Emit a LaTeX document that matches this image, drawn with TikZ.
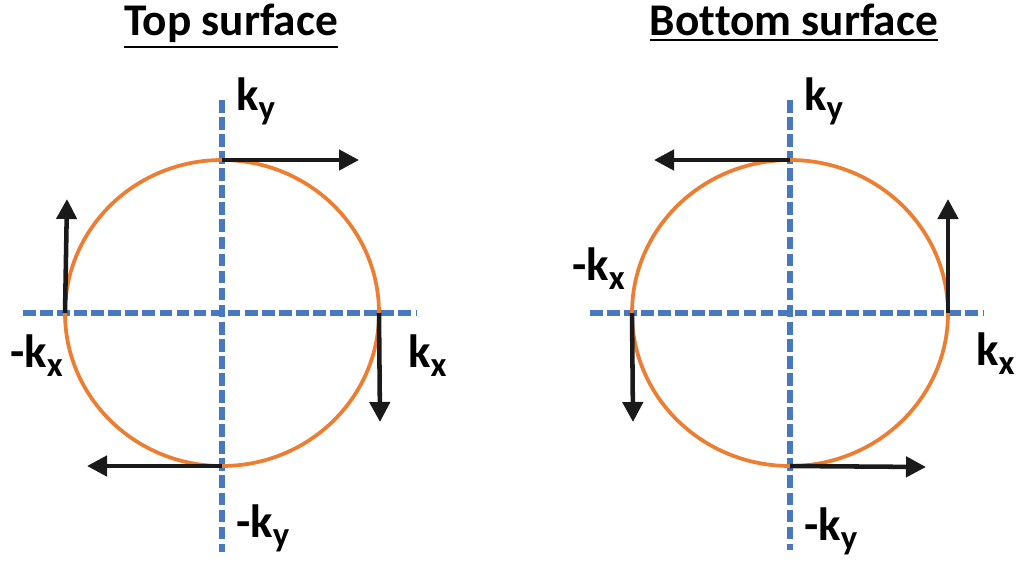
\documentclass[tikz,border=0pt]{standalone}
\usepackage{fontspec}
\setmainfont{Carlito}[Ligatures=NoCommon]
\usetikzlibrary{arrows.meta}
\definecolor{orng}{RGB}{237,125,49}
\definecolor{axblue}{RGB}{72,121,192}
\definecolor{arr}{RGB}{26,26,26}
\newcommand{\sbx}[1]{\raisebox{-7pt}{\fontsize{26}{26}\selectfont #1}}
\begin{document}
\begin{tikzpicture}[x=0.75pt,y=-0.75pt,
 axis/.style={axblue,line width=4.2pt,dash pattern=on 9.5pt off 3.3pt},
 ring/.style={orng,line width=2.8pt},
 spin/.style={arr,line width=3.4pt,-{Triangle[length=15pt,width=15pt]}},
 lab/.style={font=\fontsize{35}{37}\selectfont\bfseries,inner sep=0pt,anchor=base west},
 ttl/.style={font=\fontsize{34}{36}\selectfont\bfseries,inner sep=0pt,anchor=base},
 uline/.style={black,line width=1.8pt}]
\useasboundingbox (0,0) rectangle (1016,561);
% ---------- left: top surface ----------
\node[ttl] (tt) at (231,35) {Top surface};
\draw[uline] ([yshift=-3.5pt]tt.south west) -- ([yshift=-3.5pt]tt.south east);
\coordinate (Lc) at (222,313);
\coordinate (Ln) at (222,100);
\coordinate (Ls) at (222,552);
\coordinate (Lw) at (23,313);
\coordinate (Le) at (416,313);
\draw[axis] (Ln) -- (Ls);
\draw[axis] (Lw) -- (Le);
\draw[ring] (Lc) ellipse [x radius=157, y radius=153];
\coordinate (Lt) at (222,160);
\coordinate (Lb) at (222,466);
\coordinate (Ll) at (65,313);
\coordinate (Lr) at (379,313);
\coordinate (Lt2) at (359,160);
\coordinate (Lb2) at (87,466);
\coordinate (Ll2) at (67,199);
\coordinate (Lr2) at (380,422);
\draw[spin] (Lt) -- (Lt2);
\draw[spin] (Lb) -- (Lb2);
\draw[spin] (Ll) -- (Ll2);
\draw[spin] (Lr) -- (Lr2);
\node[lab] (Lky) at (236,110) {k\sbx{y}};
\node[lab] (Lmky) at (236,537) {-k\sbx{y}};
\node[lab] (Lmkx) at (10,367) {-k\sbx{x}};
\node[lab] (Lkx) at (408,367) {k\sbx{x}};
% ---------- right: bottom surface ----------
\node[ttl] (bt) at (794,35) {Bottom surface};
\draw[uline] ([yshift=-3.5pt]bt.south west) -- ([yshift=-3.5pt]bt.south east);
\coordinate (Rc) at (790,313);
\coordinate (Rn) at (790,100);
\coordinate (Rs) at (790,550);
\coordinate (Rw) at (590,313);
\coordinate (Re) at (983,313);
\draw[axis] (Rn) -- (Rs);
\draw[axis] (Rw) -- (Re);
\draw[ring] (Rc) ellipse [x radius=158, y radius=153];
\coordinate (Rt) at (790,160);
\coordinate (Rb) at (790,466);
\coordinate (Rl) at (632,313);
\coordinate (Rr) at (948,313);
\coordinate (Rt2) at (654,160);
\coordinate (Rb2) at (926,467);
\coordinate (Rl2) at (633,422);
\coordinate (Rr2) at (948,199);
\draw[spin] (Rt) -- (Rt2);
\draw[spin] (Rb) -- (Rb2);
\draw[spin] (Rl) -- (Rl2);
\draw[spin] (Rr) -- (Rr2);
\node[lab] (Rky) at (804,110) {k\sbx{y}};
\node[lab] (Rmky) at (804,540) {-k\sbx{y}};
\node[lab] (Rmkx) at (572,280) {-k\sbx{x}};
\node[lab] (Rkx) at (976,365) {k\sbx{x}};
\end{tikzpicture}
\end{document}
